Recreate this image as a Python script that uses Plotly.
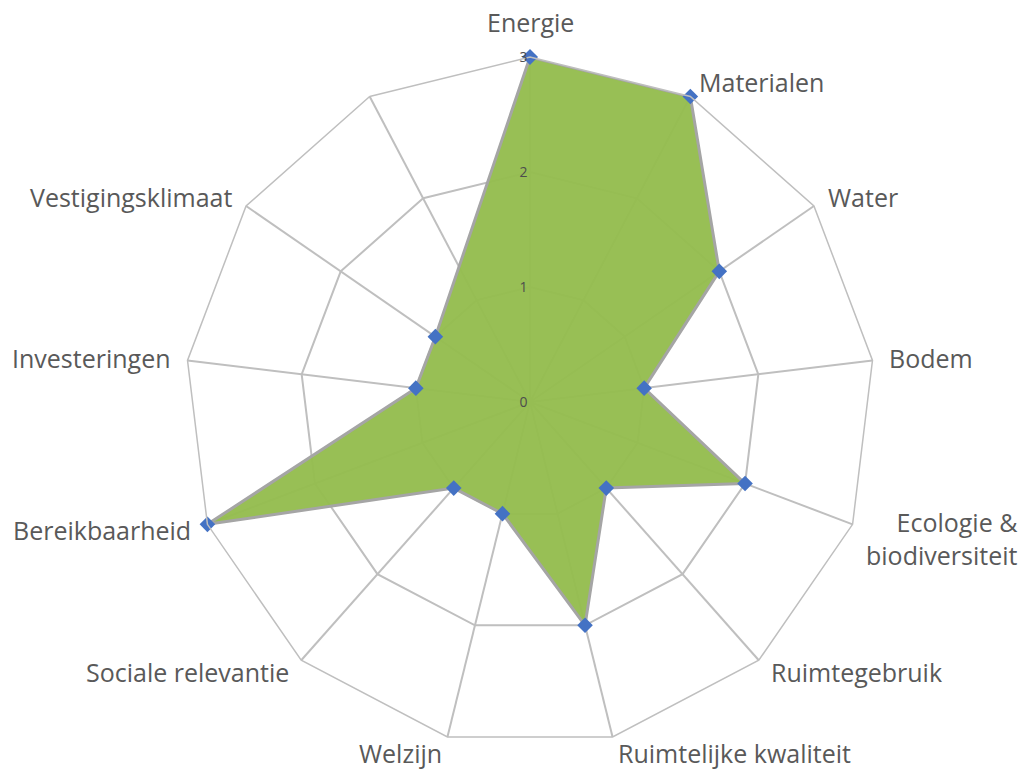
import math
import plotly.graph_objects as go

categories = ["Energie", "Materialen", "Water", "Bodem", "Ecologie &<br>biodiversiteit",
              "Ruimtegebruik", "Ruimtelijke kwaliteit", "Welzijn", "Sociale relevantie",
              "Bereikbaarheid", "Investeringen", "Vestigingsklimaat", " "]
values = [3, 3, 2, 1, 2, 1, 2, 1, 1, 3, 1, 1]
radial_ticks = [0, 1, 2, 3]

theta = categories[:len(values)] + [categories[0]]
r = values + [values[0]]

W, H = 1027, 774
CX, CY, R = 530, 402, 345  # polar centre and outer radius in pixels

fig = go.Figure()
fig.add_trace(go.Scatterpolar(
    r=r, theta=theta, mode="lines+markers", fill="toself",
    fillcolor="rgba(148,188,78,0.96)",
    line=dict(color="#A5A5A5", width=3),
    marker=dict(symbol="diamond", size=12, color="#4472C4"),
    hoverinfo="skip", showlegend=False,
))

# category labels placed just outside the outer polygon vertices
annotations = []
n = len(categories)
for k, name in enumerate(categories):
    if not name.strip():
        continue
    a = 2 * math.pi * k / n
    s, c = math.sin(a), math.cos(a)
    px = CX + R * s + 15 * s
    py = CY - R * c - 16 * c
    if s > 0.05:
        xa = "left"
    elif s < -0.05:
        xa = "right"
    else:
        xa = "center"
    ya = "bottom" if c > 0.95 else "middle"
    align = "left"
    if "<br>" in name:
        px, xa, align = W - 7, "right", "right"
        py += 8
    annotations.append(dict(
        x=px / W, y=1 - py / H, xref="paper", yref="paper",
        text=name, showarrow=False, xanchor=xa, yanchor=ya, align=align,
        font=dict(family="Open Sans", size=25, color="#595959"),
    ))

fig.update_layout(
    width=W, height=H,
    margin=dict(l=0, r=0, t=0, b=0),
    paper_bgcolor="white",
    font=dict(family="Open Sans", size=25, color="#595959"),
    annotations=annotations,
    polar=dict(
        domain=dict(x=[(CX - R) / W, (CX + R) / W], y=[1 - (CY + R) / H, 1 - (CY - R) / H]),
        bgcolor="white",
        gridshape="linear",
        radialaxis=dict(range=[0, 3], tickvals=radial_ticks, angle=90, tickangle=90,
                        showline=False, gridcolor="#BFBFBF", gridwidth=1.5,
                        tickfont=dict(family="Open Sans", size=14, color="#4D4D4D"), ticks="",
                        side="counterclockwise"),
        angularaxis=dict(type="category", categoryarray=categories,
                         direction="clockwise", rotation=90,
                         gridcolor="#BFBFBF", gridwidth=1.5,
                         linecolor="#BFBFBF", linewidth=1.5,
                         showticklabels=False, ticks=""),
    ),
)

fig.write_html("out.html")
